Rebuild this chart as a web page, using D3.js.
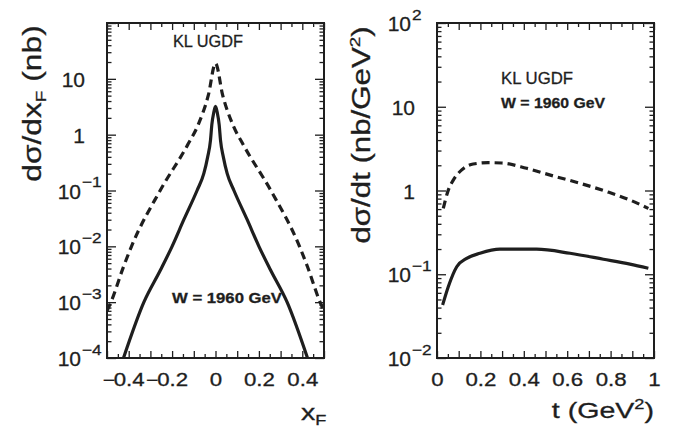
<!DOCTYPE html>
<html>
<head>
<meta charset="utf-8">
<script src="https://cdn.jsdelivr.net/npm/d3@7"></script>
<style>
  body { margin: 0; background: #fff; }
  text { font-family: "Liberation Sans", Arial, sans-serif; fill: #1e1e1e; stroke: #1e1e1e; stroke-width: 0.3; }
</style>
</head>
<body>
<svg id="chart" width="673" height="429"></svg>
<script>
// left panel: dsigma/dxF vs xF (KL UGDF, W = 1960 GeV)
const xfDashed  = [-0.5, -0.482, -0.424, -0.387, -0.255, -0.129, -0.08, -0.033, 0, 0.033, 0.08, 0.129, 0.255, 0.387, 0.424, 0.482, 0.5];
const sigDashed = [7e-4, 1e-3, 4.3e-3, 1e-2, 0.1, 0.65, 1.5, 5.1, 19, 5.1, 1.5, 0.65, 0.1, 1e-2, 4.3e-3, 1e-3, 7e-4];
const xfSolid   = [-0.424, -0.33, -0.253, -0.2, -0.146, -0.085, -0.054, -0.036, -0.023, -0.017, -0.008, 0, 0.008, 0.017, 0.023, 0.036, 0.054, 0.085, 0.146, 0.2, 0.253, 0.33, 0.424];
const sigSolid  = [1e-4, 1e-3, 3.8e-3, 1e-2, 0.03, 0.1, 0.2, 0.4, 0.8, 1.5, 2.5, 3.2, 2.5, 1.5, 0.8, 0.4, 0.2, 0.1, 0.03, 1e-2, 3.8e-3, 1e-3, 1e-4];

// right panel: dsigma/dt vs t
const tDashed   = [0.029, 0.052, 0.075, 0.114, 0.167, 0.236, 0.298, 0.413, 0.536, 0.659, 0.782, 0.889, 0.974];
const dtDashed  = [0.61, 1.01, 1.33, 1.76, 2.07, 2.15, 2.13, 1.84, 1.49, 1.22, 0.97, 0.77, 0.61];
const tSolid    = [0.026, 0.052, 0.091, 0.137, 0.198, 0.29, 0.459, 0.613, 0.767, 0.889, 0.974];
const dtSolid   = [0.043, 0.071, 0.123, 0.155, 0.178, 0.199, 0.199, 0.178, 0.151, 0.132, 0.118];

// tick labels
const xfLabels = [-0.4, -0.2, 0, 0.2, 0.4];
const tLabels = [0, 0.2, 0.4, 0.6, 0.8, 1];
const leftDecades = [1e-4, 1e-3, 1e-2, 1e-1, 1, 10];
const rightDecades = [1e-2, 1e-1, 1, 10, 100];

const svg = d3.select("#chart");
const ink = "#1e1e1e";

const panels = [
  {
    left: 107, top: 23, width: 217, height: 335,
    xDomain: [-0.5, 0.5], yDomain: [1e-4, 1e2],
    xLabels: xfLabels, decades: leftDecades, clip: "clipL",
    series: [
      { x: xfDashed, y: sigDashed, dash: "8,5" },
      { x: xfSolid, y: sigSolid, dash: null }
    ]
  },
  {
    left: 437, top: 23, width: 217, height: 335,
    xDomain: [0, 1], yDomain: [1e-2, 1e2],
    xLabels: tLabels, decades: rightDecades, clip: "clipR",
    series: [
      { x: tDashed, y: dtDashed, dash: "8,5" },
      { x: tSolid, y: dtSolid, dash: null }
    ]
  }
];

function fmtNum(v) {
  return v === 0 ? "0" : (v === 1 ? "1" : Math.abs(v).toFixed(1));
}

panels.forEach(p => {
  const x = d3.scaleLinear().domain(p.xDomain).range([p.left, p.left + p.width]);
  const y = d3.scaleLog().domain(p.yDomain).range([p.top + p.height, p.top]);
  const bottom = p.top + p.height, right = p.left + p.width;

  // tick positions
  const fine = d3.range(Math.round(p.xDomain[0] * 20), Math.round(p.xDomain[1] * 20) + 1).map(i => i / 20);
  const tenths = fine.filter(v => Math.round(v * 20) % 2 === 0);
  const halves = fine.filter(v => Math.round(v * 20) % 2 !== 0);
  const minorY = [];
  const lo = Math.round(Math.log10(p.yDomain[0])), hi = Math.round(Math.log10(p.yDomain[1]));
  for (let d = lo; d < hi; d++) for (let m = 2; m <= 9; m++) minorY.push(m * Math.pow(10, d));
  const allDecades = d3.range(lo, hi + 1).map(d => Math.pow(10, d));

  const clean = g => { g.select(".domain").remove(); g.selectAll("line").attr("stroke", ink).attr("stroke-width", 1.3); };

  // x ticks (bottom + top mirror)
  [[tenths, 7], [halves, 4]].forEach(([vals, len]) => {
    svg.append("g").attr("transform", `translate(0,${bottom})`)
      .call(d3.axisBottom(x).tickValues(vals).tickSize(-len).tickFormat("")).call(clean);
    svg.append("g").attr("transform", `translate(0,${p.top})`)
      .call(d3.axisTop(x).tickValues(vals).tickSize(-len).tickFormat("")).call(clean);
  });
  // y ticks (left + right mirror)
  [[allDecades, 9], [minorY, 4.5]].forEach(([vals, len]) => {
    svg.append("g").attr("transform", `translate(${p.left},0)`)
      .call(d3.axisLeft(y).tickValues(vals).tickSize(-len).tickFormat("")).call(clean);
    svg.append("g").attr("transform", `translate(${right},0)`)
      .call(d3.axisRight(y).tickValues(vals).tickSize(-len).tickFormat("")).call(clean);
  });

  // x labels
  const xl = svg.append("g").attr("transform", `translate(0,${bottom})`)
    .call(d3.axisBottom(x).tickValues(p.xLabels).tickSize(0).tickFormat(fmtNum));
  xl.select(".domain").remove();
  xl.selectAll(".tick text")
    .attr("y", 28.5).attr("dy", null)
    .attr("font-size", 17.5).attr("font-family", null).attr("fill", null)
    .attr("transform", "scale(1.27,1)");
  xl.selectAll(".tick").each(function(v) {
    if (v < 0) {
      const t = d3.select(this).select("text");
      const w = t.node().getComputedTextLength() / 2;
      d3.select(this).append("text")
        .attr("x", -w + 0.3).attr("y", 28.5)
        .attr("text-anchor", "end").attr("font-size", 17.5)
        .attr("transform", "scale(1.2,1)")
        .text("\u2212");
    }
  });

  // y labels (log decades)
  const yl = svg.append("g").attr("transform", `translate(${p.left},0)`)
    .call(d3.axisLeft(y).tickValues(p.decades).tickSize(0).tickFormat(""));
  yl.select(".domain").remove();
  yl.selectAll(".tick").each(function(v) {
    const e = Math.round(Math.log10(v));
    const g = d3.select(this);
    g.select("text").remove();
    if (e === 0 || e === 1) {
      g.append("text").attr("x", -22).attr("y", 7.5)
        .attr("text-anchor", "end").attr("font-size", 21).text(e === 0 ? "1" : "10");
    } else {
      g.append("text").attr("x", -26).attr("y", 7.5)
        .attr("text-anchor", "end").attr("font-size", 21).text("10");
      g.append("text").attr("transform", "translate(-25,-4) scale(1.15,1)")
        .attr("text-anchor", "start").attr("font-size", 15)
        .text(e < 0 ? "\u2212" + (-e) : String(e));
    }
  });

  // curves
  svg.append("clipPath").attr("id", p.clip)
    .append("rect").attr("x", p.left).attr("y", p.top).attr("width", p.width).attr("height", p.height);
  const line = d3.line().x(d => x(d[0])).y(d => y(d[1])).curve(d3.curveMonotoneX);
  p.series.forEach(s => {
    svg.append("path")
      .datum(s.x.map((v, i) => [v, s.y[i]]))
      .attr("clip-path", `url(#${p.clip})`)
      .attr("d", line)
      .attr("fill", "none")
      .attr("stroke", ink)
      .attr("stroke-width", 3.2)
      .attr("stroke-dasharray", s.dash);
  });

  // frame
  svg.append("rect").attr("x", p.left).attr("y", p.top)
    .attr("width", p.width).attr("height", p.height)
    .attr("fill", "none").attr("stroke", ink).attr("stroke-width", 2);
});

// axis titles
const ly = svg.append("text").attr("transform", "translate(41,103.5) rotate(-90) scale(1.27,1)")
  .attr("text-anchor", "middle").attr("font-size", 25);
ly.append("tspan").text("d\u03c3/dx");
ly.append("tspan").attr("font-size", 15).attr("dy", 5).text("F");
ly.append("tspan").attr("dy", -5).text(" (nb)");

const ry = svg.append("text").attr("transform", "translate(370,135) rotate(-90) scale(1.25,1)")
  .attr("text-anchor", "middle").attr("font-size", 25);
ry.append("tspan").text("d\u03c3/dt (nb/GeV");
ry.append("tspan").attr("font-size", 15).attr("dy", -10).text("2");
ry.append("tspan").attr("dy", 10).text(")");

const lx = svg.append("text").attr("transform", "translate(301,420) scale(1.3,1)")
  .attr("font-size", 22);
lx.append("tspan").text("x");
lx.append("tspan").attr("font-size", 14).attr("dy", 5).text("F");

const rx = svg.append("text").attr("transform", "translate(654,418) scale(1.3,1)")
  .attr("text-anchor", "end").attr("font-size", 22);
rx.append("tspan").text("t (GeV");
rx.append("tspan").attr("font-size", 14).attr("dy", -9).text("2");
rx.append("tspan").attr("dy", 9).text(")");

// annotations
svg.append("text").attr("x", 173).attr("y", 47).attr("font-size", 17).attr("stroke-width", 0.6)
  .attr("textLength", 70).attr("lengthAdjust", "spacingAndGlyphs").text("KL UGDF");
svg.append("text").attr("x", 172).attr("y", 303).attr("font-size", 15).attr("font-weight", "bold")
  .attr("textLength", 110).attr("lengthAdjust", "spacingAndGlyphs").text("W = 1960 GeV");
svg.append("text").attr("x", 501).attr("y", 84).attr("font-size", 17).attr("stroke-width", 0.6)
  .attr("textLength", 72).attr("lengthAdjust", "spacingAndGlyphs").text("KL UGDF");
svg.append("text").attr("x", 501).attr("y", 108).attr("font-size", 15).attr("font-weight", "bold")
  .attr("textLength", 104).attr("lengthAdjust", "spacingAndGlyphs").text("W = 1960 GeV");
</script>
</body>
</html>
